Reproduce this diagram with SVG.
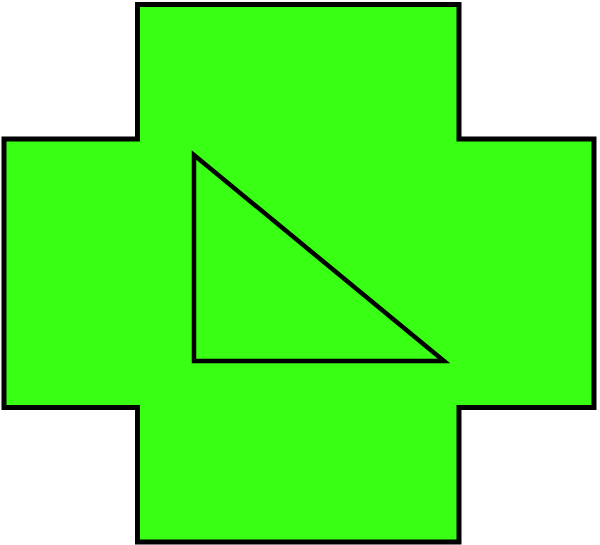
<svg xmlns="http://www.w3.org/2000/svg" width="600" height="545" viewBox="0 0 600 545">
<style>
.s{fill:#39ff14;stroke:#000;stroke-width:5;stroke-linejoin:miter}
.t{fill:none;stroke:#000;stroke-width:4.5;stroke-linejoin:miter}
</style>
<rect width="600" height="545" fill="#fff"/>
<g id="cross">
<polygon class="s" points="137.5,4.5 459,4.5 459,139 594,139 594,407.5 459,407.5 459,542 137.5,542 137.5,407.5 4,407.5 4,139 137.5,139"/>
</g>
<g id="triangle">
<polygon class="t" points="194,155 194,361 444,361"/>
</g>
</svg>
